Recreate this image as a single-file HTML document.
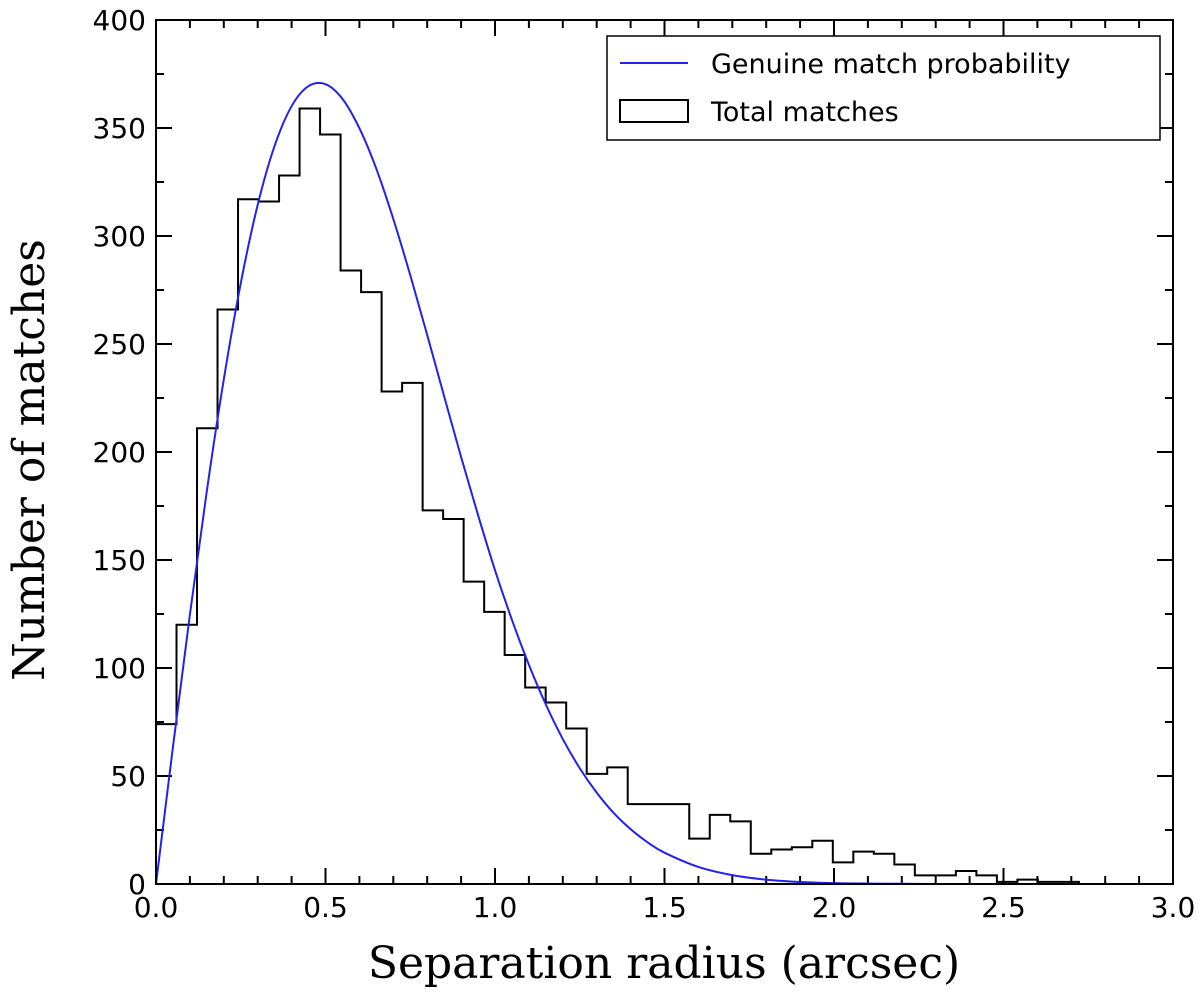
<!DOCTYPE html>
<html><head><meta charset="utf-8"><style>
html,body{margin:0;padding:0;background:#fff;}
svg text{font-family:"DejaVu Sans","Liberation Sans",sans-serif;}
</style></head><body>
<svg id="chart" width="1200" height="998" xmlns="http://www.w3.org/2000/svg">
<g id="ticks"></g>
<g id="marks"></g>
<rect x="156" y="20" width="1017" height="864" fill="none" stroke="#000" stroke-width="2"/>
<text x="664" y="978" text-anchor="middle" font-size="44" style="font-family:'DejaVu Serif','Liberation Serif',serif">Separation radius (arcsec)</text>
<text transform="translate(44,460) rotate(-90)" text-anchor="middle" font-size="44" style="font-family:'DejaVu Serif','Liberation Serif',serif">Number of matches</text>
<g>
<rect x="607" y="36" width="553" height="104" fill="#fff" stroke="#000" stroke-width="1.5"/>
<line x1="620" y1="63" x2="688" y2="63" stroke="#2222ee" stroke-width="2"/>
<text x="711" y="73" font-size="27">Genuine match probability</text>
<rect x="620" y="100" width="68" height="22" fill="none" stroke="#000" stroke-width="2"/>
<text x="711" y="121" font-size="27">Total matches</text>
</g>
</svg>
<script>
const binWidth = 0.0605;
const counts = [74,120,211,266,317,316,328,359,347,284,274,228,232,173,169,140,126,106,91,84,72,51,54,37,37,37,21,32,29,14,16,17,20,10,15,14,9,4,4,6,4,1,2,1,1];
const curveX = [0,0.05,0.1,0.15,0.2,0.25,0.3,0.35,0.4,0.45,0.5,0.55,0.6,0.65,0.7,0.75,0.8,0.85,0.9,0.95,1.0,1.05,1.1,1.15,1.2,1.25,1.3,1.35,1.4,1.45,1.5,1.6,1.7,1.8,1.9,2.0,2.1,2.2,2.3,2.5,2.7,3.0];
const curveY = [0,63.4,124.7,182.0,233.6,278.1,314.4,341.8,360.1,369.4,370.3,363.5,349.9,331.1,307.9,281.9,254.2,225.8,197.7,170.8,145.3,122.3,101.5,83.1,67.1,53.6,42.3,32.9,25.4,19.3,14.5,7.9,4.1,2.0,0.9,0.4,0.2,0.1,0,0,0,0];
const xTicks = ["0.0","0.5","1.0","1.5","2.0","2.5","3.0"];
const yTicks = ["0","50","100","150","200","250","300","350","400"];

const X0=156,X1=1173,Y0=884,Y1=20;
const sx=v=>X0+(v/3)*(X1-X0);
const sy=v=>Y0-(v/400)*(Y0-Y1);
const NS="http://www.w3.org/2000/svg";
const tg=document.getElementById('ticks'), mg=document.getElementById('marks');
function mk(tag,attrs,parent){const e=document.createElementNS(NS,tag);for(const k in attrs)e.setAttribute(k,attrs[k]);parent.appendChild(e);return e;}

for(let i=0;i<=30;i++){
  const v=i*0.1, x=sx(v), L=(i%5===0)?16:8;
  const t1=mk('line',{x1:x,y1:Y0,x2:x,y2:Y0-L,stroke:'#000','stroke-width':2},tg);
  
  
  const t2=mk('line',{x1:x,y1:Y1,x2:x,y2:Y1+L,stroke:'#000','stroke-width':2},tg);
  
  
}
for(let i=0;i<=16;i++){
  const v=i*25, y=sy(v), L=(i%2===0)?16:8;
  const t1=mk('line',{x1:X0,y1:y,x2:X0+L,y2:y,stroke:'#000','stroke-width':2},tg);
  
  
  const t2=mk('line',{x1:X1,y1:y,x2:X1-L,y2:y,stroke:'#000','stroke-width':2},tg);
  
  
}
xTicks.forEach(s=>{
  const t=mk('text',{x:sx(parseFloat(s)),y:Y0+33,'text-anchor':'middle','font-size':28},tg);
  t.textContent=s;
  
  
});
yTicks.forEach(s=>{
  const t=mk('text',{x:X0-10,y:sy(parseFloat(s))+10,'text-anchor':'end','font-size':28},tg);
  t.textContent=s;
  
  
});

let d='M'+sx(0)+','+sy(0);
counts.forEach((c,i)=>{
  d+=' L'+sx(i*binWidth)+','+sy(c)+' L'+sx((i+1)*binWidth)+','+sy(c);
});
d+=' L'+sx(counts.length*binWidth)+','+sy(0);
const hist=mk('path',{d:d,fill:'none',stroke:'#000','stroke-width':2,'stroke-linejoin':'miter'},mg);



const pts=curveX.map((x,i)=>[sx(x),sy(curveY[i])]);
let cd='M'+pts[0][0]+','+pts[0][1];
for(let i=0;i<pts.length-1;i++){
  const p0=pts[Math.max(0,i-1)],p1=pts[i],p2=pts[i+1],p3=pts[Math.min(pts.length-1,i+2)];
  const c1=[p1[0]+(p2[0]-p0[0])/6,p1[1]+(p2[1]-p0[1])/6];
  const c2=[p2[0]-(p3[0]-p1[0])/6,p2[1]-(p3[1]-p1[1])/6];
  cd+=' C'+c1[0]+','+c1[1]+' '+c2[0]+','+c2[1]+' '+p2[0]+','+p2[1];
}
const curve=mk('path',{d:cd,fill:'none',stroke:'#2222ee','stroke-width':2},mg);


</script>
</body></html>
